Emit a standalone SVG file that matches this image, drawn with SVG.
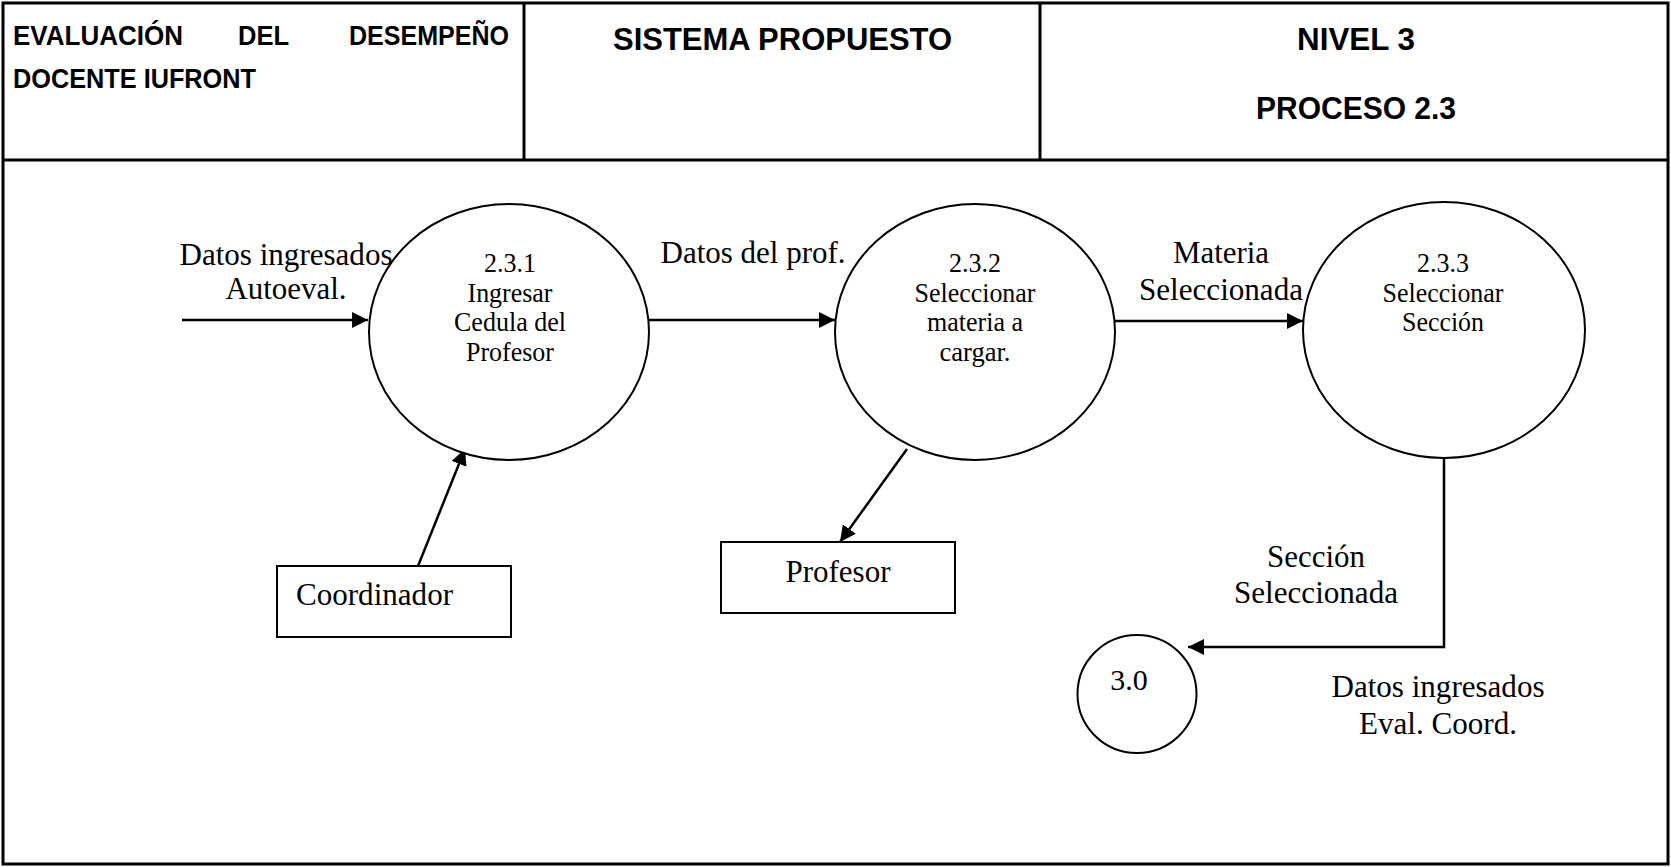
<svg xmlns="http://www.w3.org/2000/svg" width="1671" height="867" viewBox="0 0 1671 867">
<style>
.frame{fill:none;stroke:#000;stroke-width:3}
.hdr{font-family:"Liberation Sans",Arial,sans-serif;font-weight:bold;fill:#000}
.proc{fill:#fff;stroke:#000;stroke-width:2}
.ent{fill:#fff;stroke:#000;stroke-width:2}
.ptxt{font-family:"Liberation Serif","Times New Roman",serif;font-size:27px;fill:#000;text-anchor:middle}
.lbl{font-family:"Liberation Serif","Times New Roman",serif;font-size:32px;fill:#000;text-anchor:middle}
.flow{fill:none;stroke:#000;stroke-width:2.5}
</style>
<defs>
<marker id="arr" markerUnits="userSpaceOnUse" markerWidth="16" markerHeight="16" refX="16" refY="8" orient="auto">
<path d="M0,0 L16,8 L0,16 Z" fill="#000"/>
</marker>
</defs>
<rect width="1671" height="867" fill="#fff"/>
<g id="header">
<rect class="frame" x="3" y="3" width="1665" height="861"/>
<line class="frame" x1="3" y1="160" x2="1668" y2="160"/>
<line class="frame" x1="524" y1="3" x2="524" y2="160"/>
<line class="frame" x1="1040" y1="3" x2="1040" y2="160"/>
<text class="hdr" font-size="27" x="13" y="45" textLength="170" lengthAdjust="spacingAndGlyphs">EVALUACIÓN</text>
<text class="hdr" font-size="27" x="238" y="45" textLength="51" lengthAdjust="spacingAndGlyphs">DEL</text>
<text class="hdr" font-size="27" x="349" y="45" textLength="160" lengthAdjust="spacingAndGlyphs">DESEMPEÑO</text>
<text class="hdr" font-size="27" x="13" y="88" textLength="243" lengthAdjust="spacingAndGlyphs">DOCENTE IUFRONT</text>
<text class="hdr" font-size="32" x="613" y="50" textLength="339" lengthAdjust="spacingAndGlyphs">SISTEMA PROPUESTO</text>
<text class="hdr" font-size="32" x="1297" y="50" textLength="118" lengthAdjust="spacingAndGlyphs">NIVEL 3</text>
<text class="hdr" font-size="32" x="1256" y="119" textLength="200" lengthAdjust="spacingAndGlyphs">PROCESO 2.3</text>
</g>
<g id="connectors">
<line class="flow" x1="182" y1="320" x2="368" y2="320" marker-end="url(#arr)"/>
<line class="flow" x1="649" y1="320" x2="835" y2="320" marker-end="url(#arr)"/>
<line class="flow" x1="1115" y1="321" x2="1303" y2="321" marker-end="url(#arr)"/>
<line class="flow" x1="418" y1="566" x2="465" y2="449" marker-end="url(#arr)"/>
<line class="flow" x1="907" y1="449" x2="840" y2="542" marker-end="url(#arr)"/>
<polyline class="flow" points="1444,458 1444,647 1188,647" marker-end="url(#arr)"/>
<text class="lbl" x="286" y="265" textLength="213" lengthAdjust="spacingAndGlyphs">Datos ingresados</text>
<text class="lbl" x="286" y="299" textLength="121" lengthAdjust="spacingAndGlyphs">Autoeval.</text>
<text class="lbl" x="753" y="263" textLength="185" lengthAdjust="spacingAndGlyphs">Datos del prof.</text>
<text class="lbl" x="1221" y="263" textLength="96" lengthAdjust="spacingAndGlyphs">Materia</text>
<text class="lbl" x="1221" y="300" textLength="164" lengthAdjust="spacingAndGlyphs">Seleccionada</text>
<text class="lbl" x="1316" y="567" textLength="98" lengthAdjust="spacingAndGlyphs">Sección</text>
<text class="lbl" x="1316" y="603" textLength="164" lengthAdjust="spacingAndGlyphs">Seleccionada</text>
<text class="lbl" x="1438" y="697" textLength="213" lengthAdjust="spacingAndGlyphs">Datos ingresados</text>
<text class="lbl" x="1438" y="734" textLength="158" lengthAdjust="spacingAndGlyphs">Eval. Coord.</text>
</g>
<g id="p231">
<ellipse class="proc" cx="509" cy="332" rx="140" ry="128"/>
<text class="ptxt" x="510" y="272" textLength="52" lengthAdjust="spacingAndGlyphs">2.3.1</text>
<text class="ptxt" x="510" y="301.5" textLength="85" lengthAdjust="spacingAndGlyphs">Ingresar</text>
<text class="ptxt" x="510" y="331" textLength="112" lengthAdjust="spacingAndGlyphs">Cedula del</text>
<text class="ptxt" x="510" y="360.5" textLength="88" lengthAdjust="spacingAndGlyphs">Profesor</text>
</g>
<g id="p232">
<ellipse class="proc" cx="975" cy="332" rx="140" ry="128"/>
<text class="ptxt" x="975" y="272" textLength="52" lengthAdjust="spacingAndGlyphs">2.3.2</text>
<text class="ptxt" x="975" y="301.5" textLength="121" lengthAdjust="spacingAndGlyphs">Seleccionar</text>
<text class="ptxt" x="975" y="331" textLength="96" lengthAdjust="spacingAndGlyphs">materia a</text>
<text class="ptxt" x="975" y="360.5" textLength="71" lengthAdjust="spacingAndGlyphs">cargar.</text>
</g>
<g id="p233">
<ellipse class="proc" cx="1444" cy="330" rx="141" ry="128"/>
<text class="ptxt" x="1443" y="272" textLength="52" lengthAdjust="spacingAndGlyphs">2.3.3</text>
<text class="ptxt" x="1443" y="301.5" textLength="121" lengthAdjust="spacingAndGlyphs">Seleccionar</text>
<text class="ptxt" x="1443" y="331" textLength="82" lengthAdjust="spacingAndGlyphs">Sección</text>
</g>
<g id="p30">
<ellipse class="proc" cx="1137" cy="694" rx="59.5" ry="59"/>
<text x="1129" y="690" font-family="'Liberation Serif','Times New Roman',serif" font-size="30" text-anchor="middle">3.0</text>
</g>
<g id="coordinador">
<rect class="ent" x="277" y="566" width="234" height="71"/>
<text x="296" y="605" font-family="'Liberation Serif','Times New Roman',serif" font-size="32" textLength="157" lengthAdjust="spacingAndGlyphs">Coordinador</text>
</g>
<g id="profesor">
<rect class="ent" x="721" y="542" width="234" height="71"/>
<text class="lbl" x="838" y="582" textLength="105" lengthAdjust="spacingAndGlyphs">Profesor</text>
</g>
</svg>
